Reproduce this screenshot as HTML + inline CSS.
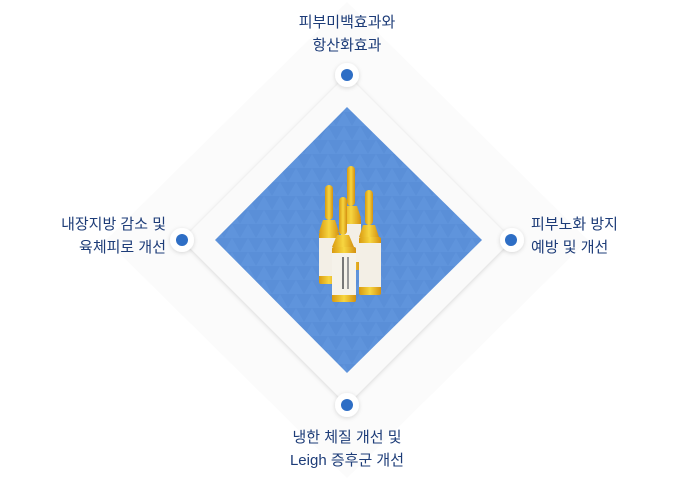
<!DOCTYPE html>
<html><head><meta charset="utf-8"><style>
body{margin:0;width:697px;height:479px;background:#fff;overflow:hidden;position:relative;font-family:"Liberation Sans","Noto Sans CJK KR",sans-serif;}
.t{position:absolute;color:#1d3c78;font-size:15px;line-height:23px;}
</style></head><body>
<svg width="697" height="479" style="position:absolute;left:0;top:0">
<defs>
<pattern id="tri" width="16" height="14" patternUnits="userSpaceOnUse">
<rect width="16" height="14" fill="#5a8fd8"/>
<path d="M0 14 L8 0 L16 14Z" fill="#5f94dc"/>
</pattern>
<filter id="sh" x="-20%" y="-20%" width="140%" height="140%"><feDropShadow dx="0" dy="1" stdDeviation="2" flood-color="#000" flood-opacity="0.15"/></filter>
<linearGradient id="gl" x1="0" x2="1"><stop offset="0" stop-color="#d99a10"/><stop offset="0.5" stop-color="#f7d640"/><stop offset="1" stop-color="#d49010"/></linearGradient>
</defs>
<polygon points="347,2 588,240 347,478 106,240" fill="#fbfbfb"/>
<polygon points="347,75 512,240 347,405 182,240" fill="#fafafa" filter="url(#sh)"/>
<polygon points="347,107 482,240 347,373 215,240" fill="url(#tri)"/>
<g>
<g transform="translate(320,185)"><rect x="5" y="0" width="8" height="35" rx="4" fill="url(#gl)"/><path d="M3 35 h12 l4 12 h-20z" fill="url(#gl)"/><rect x="-1" y="47" width="20" height="52" rx="2" fill="url(#gl)"/><rect x="-1" y="53" width="20" height="38" fill="#f3efe6"/></g>
<g transform="translate(342,166)"><rect x="5" y="0" width="8" height="40" rx="4" fill="url(#gl)"/><path d="M3 40 h12 l4 12 h-20z" fill="url(#gl)"/><rect x="-1" y="52" width="20" height="52" rx="2" fill="url(#gl)"/><rect x="-1" y="58" width="20" height="38" fill="#f3efe6"/></g>
<g transform="translate(360,190)"><rect x="5" y="0" width="8" height="35" rx="4" fill="url(#gl)"/><path d="M3 35 h12 l4 12 h-20z" fill="url(#gl)"/><rect x="-1" y="47" width="22" height="58" rx="2" fill="url(#gl)"/><rect x="-1" y="53" width="22" height="44" fill="#f3efe6"/></g>
<g transform="translate(334,197)"><rect x="5" y="0" width="8" height="38" rx="4" fill="url(#gl)"/><path d="M3 38 h12 l5 12 h-22z" fill="url(#gl)"/><rect x="-2" y="50" width="24" height="55" rx="2" fill="url(#gl)"/><rect x="-2" y="56" width="24" height="42" fill="#f5f2ea"/><rect x="8" y="60" width="2" height="32" fill="#777"/><rect x="13" y="60" width="2" height="32" fill="#999"/></g>
</g>
<g fill="#fff" filter="url(#sh)"><circle cx="347" cy="75" r="12"/><circle cx="182" cy="240" r="12"/><circle cx="512" cy="240" r="12"/><circle cx="347" cy="405" r="12"/></g>
<g fill="#2e6ec5"><circle cx="347" cy="75" r="6"/><circle cx="182" cy="240" r="6"/><circle cx="511" cy="240" r="6"/><circle cx="347" cy="405" r="6"/></g>
</svg>
<div class="t" style="left:247px;top:11px;width:200px;text-align:center">피부미백효과와<br>항산화효과</div>
<div class="t" style="left:0;top:213px;width:166px;text-align:right">내장지방 감소 및<br>육체피로 개선</div>
<div class="t" style="left:531px;top:213px;">피부노화 방지<br>예방 및 개선</div>
<div class="t" style="left:247px;top:426px;width:200px;text-align:center">냉한 체질 개선 및<br>Leigh 증후군 개선</div>
</body></html>
